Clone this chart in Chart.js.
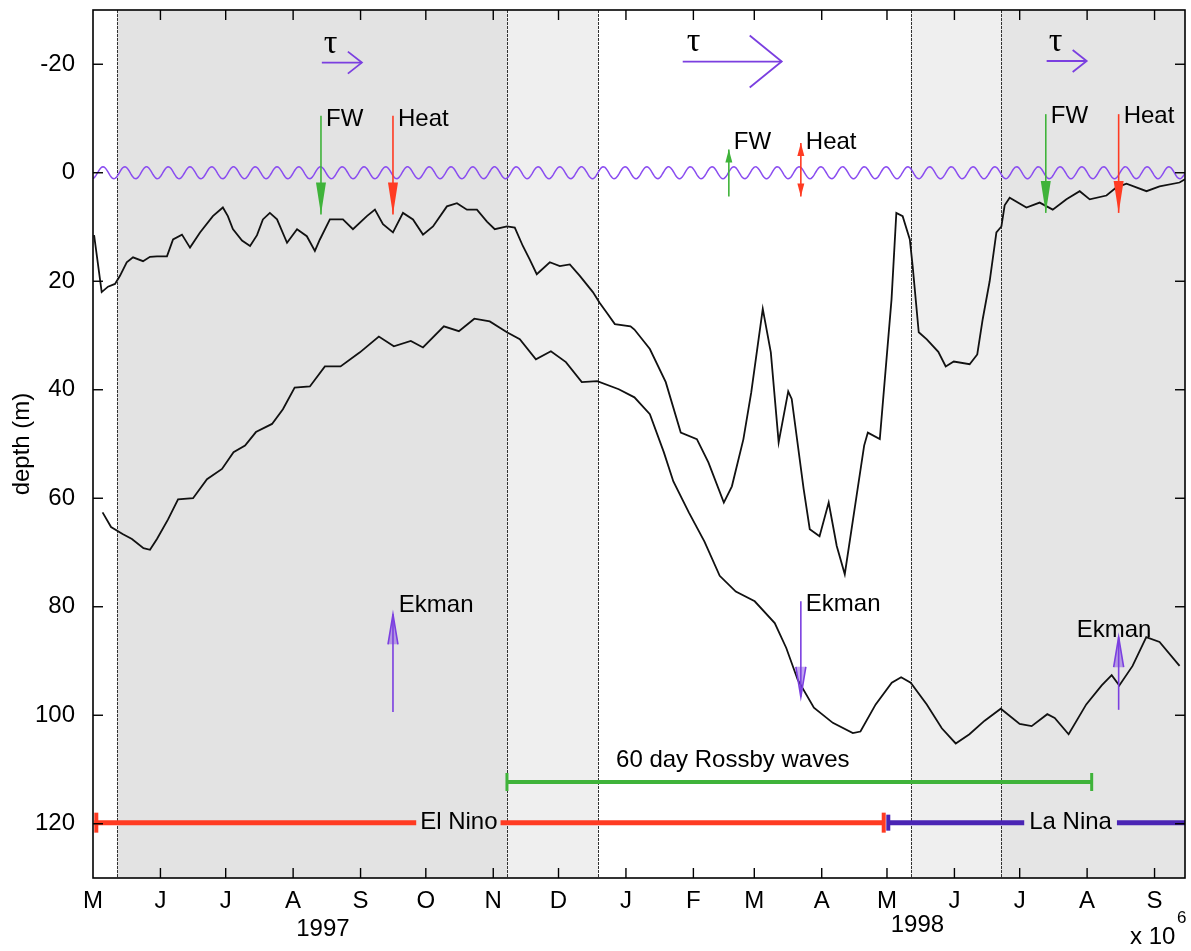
<!DOCTYPE html>
<html>
<head>
<meta charset="utf-8">
<title>Mixed layer and thermocline depth 1997-1998</title>
<script src="https://cdn.jsdelivr.net/npm/chart.js@4/dist/chart.umd.min.js"></script>
<style>
  html, body { margin: 0; padding: 0; background: #fff; }
  canvas { display: block; }
</style>
</head>
<body>
<canvas id="depthChart" width="1191" height="951"></canvas>
<script>
// time axis: days since 1 May 1997
const monthDays = [0, 31, 61, 92, 123, 153, 184, 214, 245, 276, 304, 335, 365, 396, 426, 457, 488];
const monthLabels = ['M', 'J', 'J', 'A', 'S', 'O', 'N', 'D', 'J', 'F', 'M', 'A', 'M', 'J', 'J', 'A', 'S'];
const depthTicks = [-20, 0, 20, 40, 60, 80, 100, 120];

// upper curve (mixed layer)
const mixedDays = [0.5, 4.0, 6.9, 10.1, 12.4, 15.5, 18.4, 23.0, 26.2, 29.4,
  34.0, 36.8, 40.9, 44.6, 49.2, 55.1, 59.7, 62.0, 64.3, 68.5,
  72.2, 75.4, 78.1, 81.3, 84.6, 89.2, 93.8, 98.3, 102.0, 104.3,
  108.9, 114.9, 119.5, 125.9, 129.6, 133.3, 137.9, 142.5, 147.1, 151.7,
  156.3, 162.7, 167.3, 171.9, 176.5, 181.1, 184.7, 190.3, 193.9, 197.6,
  200.8, 204.0, 210.0, 214.6, 219.2, 223.8, 229.8, 232.8, 236.2, 239.9,
  247.1, 248.9, 256.0, 263.3, 270.2, 277.6, 282.9, 290.0, 293.7, 299.0,
  302.6, 307.9, 311.6, 315.2, 319.6, 321.2, 326.7, 329.5, 334.0, 338.2,
  341.9, 345.6, 351.0, 354.5, 356.2, 361.7, 367.1, 369.3, 372.2, 375.5,
  376.8, 379.6, 383.3, 388.6, 392.0, 395.7, 403.0, 406.5, 409.0, 412.2,
  415.3, 417.6, 419.1, 421.4, 429.1, 435.2, 441.2, 447.5, 453.6, 458.2,
  465.9, 470.5, 475.1, 484.3, 490.3, 499.5, 502];
const mixedDepth = [11.5, 22, 21, 20.5, 19, 16.5, 15.6, 16.3, 15.5, 15.4,
  15.4, 12.3, 11.4, 13.8, 11, 8, 6.4, 8, 10.4, 12.5,
  13.5, 11.5, 8.6, 7.4, 8.6, 12.9, 10.4, 11.7, 14.4, 12.3,
  8.6, 8.6, 10.4, 8, 6.8, 9.5, 11, 7.4, 8.6, 11.4,
  9.9, 6.2, 5.6, 6.8, 6.8, 9, 10.4, 9.9, 10.1, 13.5,
  16, 18.7, 16.5, 17.2, 16.9, 19, 22, 23.9, 25.8, 27.9,
  28.3, 28.9, 32.5, 38.6, 47.9, 49.1, 53.4, 60.8, 57.8, 49.1,
  40.5, 25.1, 33.1, 49.7, 40.3, 41.7, 58.3, 65.7, 67, 60.8,
  68.8, 74, 59.6, 50.3, 47.9, 49.1, 23.3, 7.4, 8, 12.3,
  17.2, 29.4, 30.7, 33, 35.7, 34.8, 35.3, 33.5, 27, 20,
  11, 9.9, 6, 4.6, 6.4, 5.5, 6.8, 4.9, 3.4, 4.9,
  4.2, 2.7, 2, 3.4, 2.5, 1.8, 1.2];

// lower curve (thermocline)
const thermoDays = [4.4, 8.3, 13.6, 17.9, 23.2, 26.2, 29.4, 34.5, 39.1, 46.0,
  52.4, 59.3, 64.6, 69.9, 74.9, 82.3, 87.3, 92.7, 99.7, 106.6,
  113.8, 122.7, 131.4, 138.3, 146.1, 151.7, 161.3, 168.2, 175.3, 182.4,
  190.3, 196.2, 203.6, 210.5, 217.4, 224.7, 231.8, 241.7, 248.9, 256.0,
  262.4, 266.8, 273.9, 281.1, 288.1, 295.5, 304.2, 313.4, 318.7, 324.0,
  331.4, 340.1, 349.3, 352.8, 359.8, 367.2, 371.5, 375.9, 383.3, 390.2,
  396.6, 402.9, 409.9, 417.3, 426.0, 431.5, 438.7, 442.1, 448.5, 456.6,
  463.7, 468.3, 471.8, 477.9, 484.2, 490.3, 499.5];
const thermoDepth = [62.6, 65.3, 66.6, 67.5, 69.2, 69.5, 67.5, 63.9, 60.2, 60,
  56.5, 54.6, 51.5, 50.3, 47.8, 46.3, 43.6, 39.6, 39.4, 35.7,
  35.7, 33.1, 30.2, 32, 31, 32.2, 28.3, 29.2, 26.9, 27.4,
  29.4, 30.7, 34.4, 32.9, 34.9, 38.6, 38.4, 39.9, 41.4, 44.5,
  51.5, 56.9, 62.6, 68, 74.3, 77.2, 79, 83, 87.6, 93.5,
  98.6, 101.4, 103.3, 103, 98, 94, 93, 94, 98, 102.4,
  105.2, 103.5, 101, 98.8, 101.6, 102, 99.8, 100.5, 103.5, 98,
  94.5, 92.6, 94.5, 90.9, 85.6, 86.5, 90.9];

// shaded period boundaries (days)
const bandEdges = [11, 190.3, 232.1, 375.9, 417.3, 502];

// wind stress arrows
const tauStart = [105.2, 271.1, 438.4];
const tauEnd = [123.6, 316.6, 456.8];
const tauDepth = [-20.3, -20.5, -20.6];

// freshwater / heat flux arrows
const fluxLabels = ['FW', 'Heat', 'FW', 'Heat', 'FW', 'Heat'];
const fluxDay = [104.8, 137.9, 292.3, 325.4, 438.0, 471.5];
const fluxFrom = [-10.5, -10.5, 4.4, -5.5, -10.8, -10.8];
const fluxTo = [7.7, 7.7, -4.3, 4.4, 7.4, 7.4];
const fluxLabelDepth = [-9.8, -9.8, -5.6, -5.6, -10.3, -10.3];

// Ekman pumping arrows
const ekmanDay = [137.9, 325.4, 471.5];
const ekmanFrom = [99.4, 79.0, 99.0];
const ekmanTo = [81.4, 96.6, 85.6];
const ekmanLabelDay = [140.6, 327.7, 452.2];
const ekmanLabelDepth = [79.7, 79.5, 84.4];

// event bars
const rossbyRange = [190.3, 459.1];
const rossbyDepth = 112.3;
const ninoRange = [0.6, 363.5];
const ninaRange = [365.6, 502];
const ensoDepth = 119.8;
const ninoLabelDay = 168.2;
const ninaLabelDay = 449.4;

const FONT = '"Liberation Sans", Arial, sans-serif';
const RED = '#ff3b22';
const GREEN = '#3fb33a';
const PURPLE = '#7b3fe0';
const NAVY = '#4a24b4';

Chart.defaults.font.family = FONT;
Chart.defaults.font.size = 24;
Chart.defaults.color = '#000';

function seg(ctx, x1, y1, x2, y2) {
  ctx.beginPath();
  ctx.moveTo(x1, y1);
  ctx.lineTo(x2, y2);
  ctx.stroke();
}

function head(ctx, tx, ty, dx, dy, len, half, filled) {
  const bx = tx - dx * len, by = ty - dy * len;
  const px = -dy * half, py = dx * half;
  ctx.beginPath();
  ctx.moveTo(bx + px, by + py);
  ctx.lineTo(tx, ty);
  ctx.lineTo(bx - px, by - py);
  if (filled) {
    ctx.closePath();
    ctx.fill();
  } else {
    ctx.stroke();
  }
}

function vArrow(ctx, x, y1, y2, len, half, filled) {
  seg(ctx, x, y1, x, y2);
  head(ctx, x, y2, 0, y2 > y1 ? 1 : -1, len, half, filled);
}

const overlay = {
  id: 'overlay',
  beforeDatasetsDraw(chart) {
    const { ctx, chartArea: a, scales: { x, y } } = chart;
    ctx.save();
    ctx.beginPath();
    ctx.rect(a.left, a.top, a.right - a.left, a.bottom - a.top);
    ctx.clip();

    const shade = ['#e3e3e3', '#efefef', null, '#efefef', '#e5e5e5'];
    for (let i = 0; i < bandEdges.length - 1; i++) {
      if (!shade[i]) continue;
      const l = x.getPixelForValue(bandEdges[i]);
      const r = x.getPixelForValue(bandEdges[i + 1]);
      ctx.fillStyle = shade[i];
      ctx.fillRect(l, a.top, r - l, a.bottom - a.top);
    }

    ctx.strokeStyle = '#333';
    ctx.lineWidth = 1;
    ctx.setLineDash([3, 1]);
    bandEdges.slice(0, -1).forEach(d => {
      const px = Math.round(x.getPixelForValue(d)) + 0.5;
      seg(ctx, px, a.top, px, a.bottom);
    });
    ctx.setLineDash([]);

    // sea surface wave along depth 0
    const y0 = y.getPixelForValue(0);
    const amp = y.getPixelForValue(1.1) - y0;
    const period = x.getPixelForValue(10) - x.getPixelForValue(0);
    const phase = x.getPixelForValue(4.6);
    ctx.strokeStyle = '#8a4cf0';
    ctx.lineWidth = 1.5;
    ctx.beginPath();
    for (let px = a.left; px <= a.right; px += 1) {
      const py = y0 - amp * Math.cos(2 * Math.PI * (px - phase) / period);
      if (px === a.left) ctx.moveTo(px, py); else ctx.lineTo(px, py);
    }
    ctx.stroke();
    ctx.restore();
  },

  afterDatasetsDraw(chart) {
    const { ctx, chartArea: a, scales: { x, y } } = chart;
    const X = v => x.getPixelForValue(v);
    const Y = v => y.getPixelForValue(v);
    ctx.save();
    ctx.lineCap = 'butt';

    // wind stress
    ctx.lineWidth = 1.8;
    ctx.textBaseline = 'middle';
    ctx.textAlign = 'left';
    for (let i = 0; i < tauStart.length; i++) {
      const x1 = X(tauStart[i]), x2 = X(tauEnd[i]), py = Y(tauDepth[i]);
      const big = (tauEnd[i] - tauStart[i]) > 30;
      ctx.strokeStyle = PURPLE;
      seg(ctx, x1, py, x2, py);
      head(ctx, x2, py, 1, 0, big ? 32 : 14, big ? 26 : 11, false);
      ctx.fillStyle = '#000';
      ctx.font = '34px "Liberation Serif", "DejaVu Serif", serif';
      ctx.fillText('\u03c4', x1 + (big ? 4 : 2), py - 19);
    }

    // surface fluxes
    ctx.font = '24px ' + FONT;
    for (let i = 0; i < fluxDay.length; i++) {
      const px = X(fluxDay[i]);
      const y1 = Y(fluxFrom[i]), y2 = Y(fluxTo[i]);
      const col = fluxLabels[i] === 'FW' ? GREEN : RED;
      const small = Math.abs(fluxTo[i] - fluxFrom[i]) < 12;
      ctx.strokeStyle = col;
      ctx.fillStyle = col;
      ctx.lineWidth = 1.6;
      vArrow(ctx, px, y1, y2, small ? 13 : 32, small ? 3.5 : 5, true);
      if (fluxLabels[i] === 'Heat' && small) {
        head(ctx, px, y1, 0, -1, 13, 3.5, true);
      }
      ctx.fillStyle = '#000';
      ctx.fillText(fluxLabels[i], px + 5, Y(fluxLabelDepth[i]));
    }

    // Ekman pumping
    for (let i = 0; i < ekmanDay.length; i++) {
      const px = X(ekmanDay[i]);
      ctx.strokeStyle = PURPLE;
      ctx.fillStyle = 'rgba(123,63,224,0.45)';
      ctx.lineWidth = 1.6;
      vArrow(ctx, px, Y(ekmanFrom[i]), Y(ekmanTo[i]), 30, 5, true);
      head(ctx, px, Y(ekmanTo[i]), 0, ekmanTo[i] > ekmanFrom[i] ? 1 : -1, 30, 5, false);
      ctx.fillStyle = '#000';
      ctx.fillText('Ekman', X(ekmanLabelDay[i]), Y(ekmanLabelDepth[i]));
    }

    // Rossby wave period
    const ry = Y(rossbyDepth);
    ctx.strokeStyle = GREEN;
    ctx.lineWidth = 4;
    seg(ctx, X(rossbyRange[0]), ry, X(rossbyRange[1]), ry);
    ctx.lineWidth = 3;
    seg(ctx, X(rossbyRange[0]), ry - 9, X(rossbyRange[0]), ry + 9);
    seg(ctx, X(rossbyRange[1]), ry - 9, X(rossbyRange[1]), ry + 9);
    ctx.fillStyle = '#000';
    ctx.textAlign = 'center';
    ctx.fillText('60 day Rossby waves', X((rossbyRange[0] + rossbyRange[1]) / 2 - 30.6), Y(108.4));

    // El Nino / La Nina
    const ey = Y(ensoDepth);
    ctx.font = '24px ' + FONT;
    const ninoW = ctx.measureText('El Nino').width;
    const ninaW = ctx.measureText('La Nina').width;
    const ninoC = X(ninoLabelDay), ninaC = X(ninaLabelDay);
    ctx.lineWidth = 5;
    ctx.strokeStyle = RED;
    seg(ctx, X(ninoRange[0]), ey, ninoC - ninoW / 2 - 4, ey);
    seg(ctx, ninoC + ninoW / 2 + 3, ey, X(ninoRange[1]), ey);
    ctx.lineWidth = 4;
    seg(ctx, X(ninoRange[0]) + 2, ey - 10, X(ninoRange[0]) + 2, ey + 10);
    seg(ctx, X(ninoRange[1]), ey - 10, X(ninoRange[1]), ey + 10);
    ctx.strokeStyle = NAVY;
    ctx.lineWidth = 5;
    seg(ctx, X(ninaRange[0]), ey, ninaC - ninaW / 2 - 5, ey);
    seg(ctx, ninaC + ninaW / 2 + 5, ey, X(ninaRange[1]), ey);
    ctx.lineWidth = 4;
    seg(ctx, X(ninaRange[0]), ey - 8, X(ninaRange[0]), ey + 8);
    ctx.fillStyle = '#000';
    ctx.fillText('El Nino', ninoC, ey);
    ctx.fillText('La Nina', ninaC, ey);

    // frame and inward ticks
    ctx.strokeStyle = '#000';
    ctx.lineWidth = 1.6;
    ctx.strokeRect(a.left, a.top, a.right - a.left, a.bottom - a.top);
    ctx.lineWidth = 1.4;
    monthDays.slice(1).forEach(d => {
      const px = X(d);
      seg(ctx, px, a.bottom, px, a.bottom - 10);
      seg(ctx, px, a.top, px, a.top + 10);
    });
    depthTicks.forEach(v => {
      const py = Y(v);
      seg(ctx, a.left, py, a.left + 10, py);
      seg(ctx, a.right, py, a.right - 10, py);
    });
    ctx.restore();
  },

  afterDraw(chart) {
    const { ctx, chartArea: a, scales: { x } } = chart;
    ctx.save();
    ctx.fillStyle = '#000';
    ctx.textBaseline = 'middle';
    ctx.textAlign = 'center';
    ctx.font = '24px ' + FONT;
    ctx.fillText('1997', x.getPixelForValue(105.7), a.bottom + 51);
    ctx.fillText('1998', x.getPixelForValue(379), a.bottom + 47);
    ctx.textAlign = 'left';
    ctx.fillText('x 10', a.right - 55, a.bottom + 59);
    ctx.font = '17px ' + FONT;
    ctx.fillText('6', a.right - 8, a.bottom + 40);
    ctx.restore();
  }
};

new Chart(document.getElementById('depthChart'), {
  type: 'line',
  data: {
    datasets: [{
      label: 'mixed layer',
      data: mixedDays.map((d, i) => ({ x: d, y: mixedDepth[i] })),
      borderColor: '#111',
      borderWidth: 1.8,
      pointRadius: 0,
      fill: false
    }, {
      label: 'thermocline',
      data: thermoDays.map((d, i) => ({ x: d, y: thermoDepth[i] })),
      borderColor: '#111',
      borderWidth: 1.8,
      pointRadius: 0,
      fill: false
    }]
  },
  options: {
    responsive: false,
    animation: false,
    layout: { padding: { top: 10, right: 6, left: 0, bottom: 0 } },
    plugins: {
      legend: { display: false },
      tooltip: { enabled: false }
    },
    scales: {
      x: {
        type: 'linear',
        min: 0,
        max: 502,
        grid: { display: false },
        border: { display: false },
        afterBuildTicks: s => { s.ticks = monthDays.map(v => ({ value: v })); },
        afterFit: s => { s.height = 73; s.paddingLeft = 0; s.paddingRight = 0; },
        ticks: {
          padding: 1,
          maxRotation: 0,
          autoSkip: false,
          callback: (v, i) => monthLabels[i]
        }
      },
      y: {
        min: -30,
        max: 130,
        reverse: true,
        grid: { display: false },
        border: { display: false },
        afterBuildTicks: s => { s.ticks = depthTicks.map(v => ({ value: v })); },
        afterFit: s => { s.width = 93; s.paddingTop = 0; s.paddingBottom = 0; },
        ticks: {
          padding: 10,
          callback: v => String(v)
        },
        title: {
          display: true,
          text: 'depth (m)',
          font: { size: 24 },
          padding: { top: 8, bottom: 0 }
        }
      }
    }
  },
  plugins: [overlay]
});
</script>
</body>
</html>
